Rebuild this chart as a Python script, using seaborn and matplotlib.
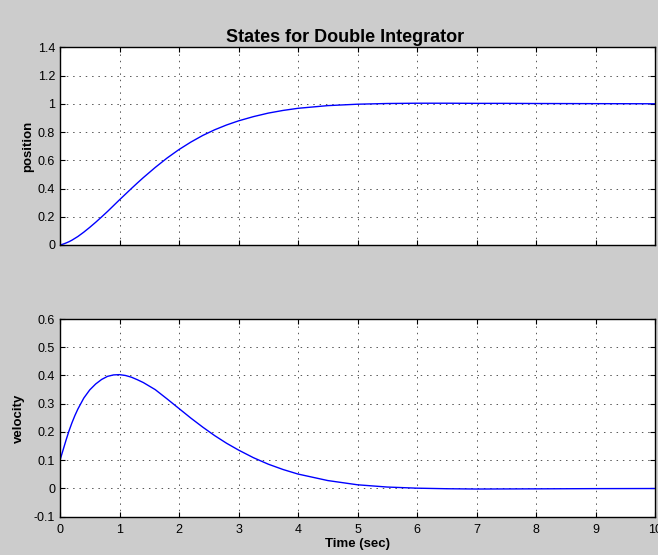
import matplotlib
matplotlib.use("Agg")
import matplotlib.pyplot as plt
import pandas as pd
import seaborn as sns

# Simulation time (s) and the two states of the double integrator
time_s = [0.0, 0.05, 0.1, 0.15, 0.2, 0.25, 0.3, 0.4, 0.5, 0.6, 0.7, 0.8, 0.9,
          1.0, 1.1, 1.2, 1.3, 1.4, 1.6, 1.8, 2.0, 2.2, 2.4, 2.6, 2.8, 3.0,
          3.25, 3.5, 3.75, 4.0, 4.5, 5.0, 5.5, 6.0, 6.5, 7.0, 7.5, 8.0, 9.0, 10.0]
position = [0.000, 0.006, 0.014, 0.023, 0.034, 0.047, 0.060, 0.091, 0.125, 0.161,
            0.199, 0.238, 0.279, 0.320, 0.360, 0.400, 0.439, 0.477, 0.549, 0.616,
            0.676, 0.729, 0.776, 0.816, 0.850, 0.879, 0.909, 0.934, 0.953, 0.968,
            0.987, 0.997, 1.002, 1.004, 1.004, 1.003, 1.003, 1.002, 1.001, 1.000]
velocity = [0.100, 0.135, 0.170, 0.203, 0.232, 0.258, 0.281, 0.320, 0.349, 0.370,
            0.386, 0.397, 0.402, 0.403, 0.400, 0.394, 0.385, 0.375, 0.350, 0.317,
            0.283, 0.249, 0.217, 0.187, 0.160, 0.136, 0.109, 0.086, 0.067, 0.051,
            0.028, 0.013, 0.005, 0.001, -0.001, -0.002, -0.0017, -0.0014, -0.0006, -0.0002]

x_ticks = [0, 1, 2, 3, 4, 5, 6, 7, 8, 9, 10]
x_tick_labels = ["0", "1", "2", "3", "4", "5", "6", "7", "8", "9", "10"]
pos_ticks = [0, 0.2, 0.4, 0.6, 0.8, 1.0, 1.2, 1.4]
pos_tick_labels = ["0", "0.2", "0.4", "0.6", "0.8", "1", "1.2", "1.4"]
vel_ticks = [-0.1, 0, 0.1, 0.2, 0.3, 0.4, 0.5, 0.6]
vel_tick_labels = ["-0.1", "0", "0.1", "0.2", "0.3", "0.4", "0.5", "0.6"]

df = pd.DataFrame({"time": time_s, "position": position, "velocity": velocity})

sns.set_theme(style="ticks")
plt.rcParams["font.family"] = ["Liberation Sans", "DejaVu Sans"]
plt.rcParams.update({
    "xtick.direction": "in", "ytick.direction": "in",
    "xtick.top": True, "ytick.right": True,
    "xtick.major.size": 3.6, "ytick.major.size": 3.6,
    "xtick.major.width": 0.8, "ytick.major.width": 0.8,
    "xtick.major.pad": 5.5, "ytick.major.pad": 3.5,
    "xtick.labelsize": 9, "ytick.labelsize": 9,
    "xtick.color": "black", "ytick.color": "black",
    "text.color": "black", "axes.labelcolor": "black",
    "axes.edgecolor": "black", "axes.linewidth": 1.0,
})

fig = plt.figure(figsize=(6.58, 5.55), dpi=100, facecolor="#cccccc")
ax_pos = fig.add_axes([60 / 658, 1 - 245 / 555, 595 / 658, 197.7 / 555])
ax_vel = fig.add_axes([60 / 658, 1 - 516.7 / 555, 595 / 658, 197.7 / 555])

grid_kw = dict(color="#555555", linestyle=(0, (1.5, 5)), linewidth=0.7)

for ax, col, ticks, labels, ylim, label, lx in [
    (ax_pos, "position", pos_ticks, pos_tick_labels, (0, 1.4), "position", -0.0437),
    (ax_vel, "velocity", vel_ticks, vel_tick_labels, (-0.1, 0.6), "velocity", -0.059),
]:
    ax.set_facecolor("white")
    sns.lineplot(data=df, x="time", y=col, ax=ax, color="#0000ff", linewidth=1.0)
    ax.set_xlim(0, 10)
    ax.set_ylim(*ylim)
    ax.set_xticks(x_ticks)
    ax.set_yticks(ticks)
    ax.set_yticklabels(labels)
    ax.grid(True, **grid_kw)
    ax.set_axisbelow(True)
    ax.set_ylabel(label, fontsize=9.5, fontweight="bold")
    ax.yaxis.set_label_coords(lx, 0.5)
    for s in ax.spines.values():
        s.set_visible(True)
        s.set_color("black")

ax_pos.set_xticklabels([])
ax_pos.set_xlabel("")
ax_vel.set_xticklabels(x_tick_labels)
ax_vel.set_xlabel("Time (sec)", fontsize=9.5, fontweight="bold", labelpad=1.5)

ax_pos.set_title("States for Double Integrator", fontsize=13, fontweight="bold",
                 x=(345 - 60) / 595, pad=3.5)

fig.savefig("out.png", dpi=100, facecolor=fig.get_facecolor())
